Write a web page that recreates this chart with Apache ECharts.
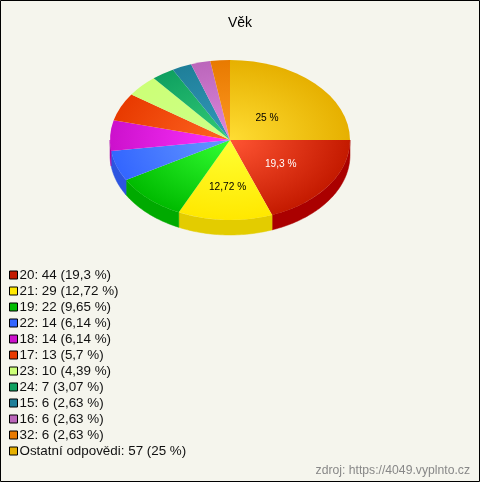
<!DOCTYPE html>
<html><head><meta charset="utf-8">
<style>html,body{margin:0;padding:0;background:#f5f5ed}#c{width:480px;height:482px}</style>
<script src="https://cdn.jsdelivr.net/npm/echarts@6/dist/echarts.min.js"></script>
</head><body><div id="c"></div>
<script>
const categories = ['20','21','19','22','18','17','23','24','15','16','32','Ostatní odpovědi'];
const counts = [44,29,22,14,14,13,10,7,6,6,6,57];
const percentLabels = ['19,3','12,72','9,65','6,14','6,14','5,7','4,39','3,07','2,63','2,63','2,63','25'];
const swatchColors = ['#c41a00','#ffe800','#00bb00','#3366ff','#cc11cc','#e83a00','#ccff77','#0fa060','#1f7f99','#bb66bb','#e87a00','#e6b000'];
const centerColors = ['#ff5533','#ffff33','#33ff33','#6699ff','#ff33ff','#ff6622','#ccff88','#33cc77','#3399bb','#dd88dd','#ff9922','#ffdd33'];
const wallColors = ['#aa0000','#e3cc00','#00aa00','#2d55e0','#aa00aa','#aa0000','#aaaa00','#00aa00','#00aa00','#aa00aa','#aa5500','#aa8800'];
const sliceLabelFill = {0:'#fff',1:'#000',11:'#000'};
const sliceLabelRadius = {0:0.51,1:0.575,11:0.43};
const sliceLabelNudgeY = {0:1,1:1,11:2.5};

const CX=230, CY=140, RX=120, RY=80, DEPTH=15;
const total = counts.reduce((a,b)=>a+b,0);
const starts = []; counts.reduce((a,b,i)=>{starts[i]=a;return a+b;},0);
const ang = v => v/total*Math.PI*2;

function renderSlice(i){
  return function(params, api){
    const a0=ang(starts[i]), a1=a0+ang(api.value(0));
    const children=[];
    const wa0=Math.max(a0,0), wa1=Math.min(a1,Math.PI);
    if(wa1>wa0){
      const pts=[], n=Math.max(2,Math.ceil((wa1-wa0)/0.02));
      for(let k=0;k<=n;k++){const t=wa0+(wa1-wa0)*k/n;pts.push([CX+RX*Math.cos(t),CY+RY*Math.sin(t)]);}
      for(let k=n;k>=0;k--){const t=wa0+(wa1-wa0)*k/n;pts.push([CX+RX*Math.cos(t),CY+DEPTH+RY*Math.sin(t)]);}
      children.push({type:'polygon',shape:{points:pts},style:{fill:wallColors[i],stroke:wallColors[i],lineWidth:0.5}});
    }
    children.push({type:'sector',x:CX,y:CY,scaleY:RY/RX,
      shape:{cx:0,cy:0,r0:0,r:RX,startAngle:a0,endAngle:a1,clockwise:true},
      style:{fill:{type:'radial',x:0,y:0,r:RX,global:true,colorStops:[{offset:0,color:centerColors[i]},{offset:1,color:swatchColors[i]}]}}});
    if(sliceLabelFill[i]){
      const m=(a0+a1)/2,f=sliceLabelRadius[i];
      children.push({type:'text',style:{x:CX+RX*f*Math.cos(m)+0.5,y:CY+RY*f*Math.sin(m)+sliceLabelNudgeY[i],text:percentLabels[i]+' %',
        fill:sliceLabelFill[i],font:'10.2px "Liberation Sans"',align:'center',verticalAlign:'middle'}});
    }
    return {type:'group',children};
  };
}
const names=categories.map((c,i)=>c+': '+counts[i]+' ('+percentLabels[i]+' %)');
const chart=echarts.init(document.getElementById('c'),null,{renderer:'canvas'});
chart.setOption({
  animation:false,
  backgroundColor:'#f5f5ed',
  title:{text:'Věk',left:'center',top:11,textStyle:{fontFamily:'Liberation Sans',fontSize:14,fontWeight:'normal',color:'#000'}},
  legend:{orient:'vertical',left:9,top:268,icon:'rect',itemWidth:8,itemHeight:8,itemGap:2,padding:0,selectedMode:false,
    data:names,
    itemStyle:{borderColor:'#000',borderWidth:1},
    textStyle:{fontFamily:'Liberation Sans',fontSize:13.4,color:'#111',padding:[0,0,0,-3],lineHeight:14}},
  graphic:[
    {type:'rect',shape:{x:0.5,y:0.5,width:479,height:481},style:{fill:'none',stroke:'#000',lineWidth:1},silent:true},
    {type:'text',right:10,top:465,style:{text:'zdroj: https://4049.vyplnto.cz',fill:'#888',font:'12.2px "Liberation Sans"'}}
  ],
  series:counts.map((v,i)=>({type:'custom',name:names[i],coordinateSystem:'none',renderItem:renderSlice(i),
    itemStyle:{color:swatchColors[i]},data:[[v]],silent:true}))
});
</script></body></html>
